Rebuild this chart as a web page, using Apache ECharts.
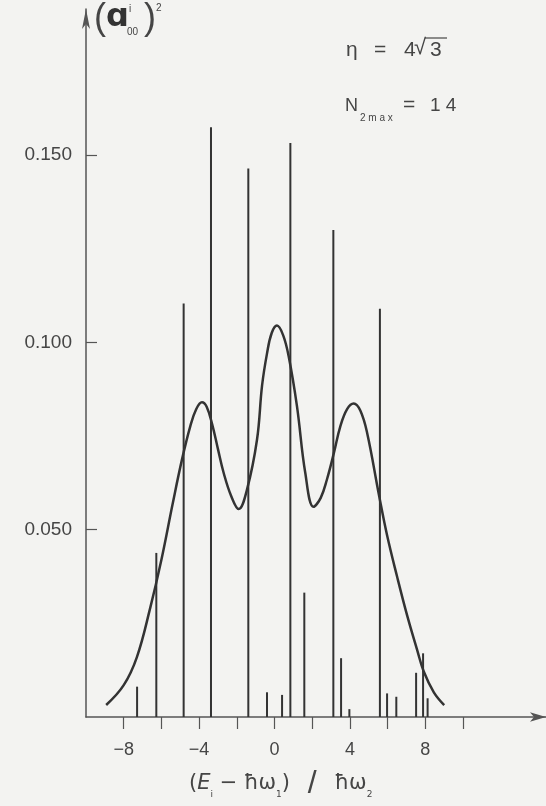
<!DOCTYPE html>
<html>
<head>
<meta charset="utf-8">
<script src="https://cdn.jsdelivr.net/npm/echarts@6/dist/echarts.min.js"></script>
<style>
html,body{margin:0;padding:0;background:#f3f3f1;}
#c{width:546px;height:806px;}
</style>
</head>
<body>
<div id="c"></div>
<script>
// Stick spectrum: positions (E_i - ħω1)/ħω2 and weights (a_00^i)^2
const barPositions = [-7.29, -6.27, -4.82, -3.37, -1.39, -0.40, 0.40, 0.84, 1.58, 3.12, 3.53, 3.97, 5.59, 5.97, 6.46, 7.51, 7.88, 8.12];
const barHeights   = [0.0081, 0.0438, 0.1104, 0.1574, 0.1464, 0.0066, 0.0059, 0.1532, 0.0332, 0.1300, 0.0157, 0.0021, 0.1090, 0.0063, 0.0054, 0.0118, 0.0170, 0.0050];

// Envelope curve
const curveX = [-8.93, -8.0, -7.3, -6.6, -6.0, -5.4, -4.91, -4.47, -4.15, -3.85, -3.60, -3.30, -3.00, -2.70, -2.30, -1.90, -1.46, -0.93, -0.66, -0.40, -0.15, 0.13, 0.45, 0.75, 1.19, 1.63, 2.07, 2.45, 2.78, 3.15, 3.49, 3.85, 4.20, 4.55, 4.91, 5.55, 5.97, 6.50, 7.03, 7.56, 7.91, 8.45, 9.0];
const curveY = [0.0032, 0.0085, 0.0160, 0.0290, 0.0420, 0.0570, 0.0687, 0.0776, 0.0822, 0.0840, 0.0828, 0.0780, 0.0715, 0.0652, 0.0590, 0.0555, 0.0607, 0.0740, 0.0885, 0.0970, 0.1025, 0.1045, 0.1020, 0.0963, 0.0830, 0.0652, 0.0561, 0.0585, 0.0634, 0.0705, 0.0776, 0.0822, 0.0837, 0.0818, 0.0759, 0.0590, 0.0485, 0.0375, 0.0272, 0.0180, 0.0122, 0.0066, 0.0032];

// Axis ticks and labels
const xTicks = [-8, -6, -4, -2, 0, 2, 4, 6, 8, 10];
const xLabels = [-8, -4, 0, 4, 8];
const yTicks = [0.05, 0.10, 0.15];

const ink = '#333';
const txt = '#454545';
const font = 'Liberation Sans';

const chart = echarts.init(document.getElementById('c'), null, {renderer: 'canvas'});
chart.setOption({
  backgroundColor: '#f3f3f1',
  animation: false,
  grid: {left: 86, right: 0, top: 9, bottom: 89, containLabel: false},
  xAxis: {
    type: 'value', min: -10, max: 14.4,
    axisLine: {show: true, onZero: false, symbol: ['none', 'arrow'], symbolSize: [7, 16], lineStyle: {color: '#555', width: 1.5}},
    axisTick: {show: true, inside: false, length: 12, customValues: xTicks, lineStyle: {color: '#555', width: 1.2}},
    axisLabel: {show: true, margin: 24, customValues: xLabels, color: txt, fontSize: 18, fontFamily: font,
      formatter: v => (v < 0 ? '\u2212' + Math.abs(v) : String(v))},
    splitLine: {show: false}
  },
  yAxis: {
    type: 'value', min: 0, max: 0.189,
    axisLine: {show: true, onZero: false, symbol: ['none', 'arrow'], symbolSize: [6, 20], lineStyle: {color: '#555', width: 1.5}},
    axisTick: {show: true, inside: true, length: 11, customValues: yTicks, lineStyle: {color: '#555', width: 1.2}},
    axisLabel: {show: true, margin: 14, customValues: yTicks, color: txt, fontSize: 19, fontFamily: font,
      formatter: v => v.toFixed(3)},
    splitLine: {show: false}
  },
  series: [
    {
      type: 'bar', barWidth: 2, z: 2,
      itemStyle: {color: ink},
      data: barPositions.map((x, i) => [x, barHeights[i]])
    },
    {
      type: 'line', smooth: 0.4, showSymbol: false, symbol: 'none', z: 3,
      lineStyle: {color: ink, width: 2.5},
      data: curveX.map((x, i) => [x, curveY[i]])
    }
  ],
  graphic: [
    // y-axis name (a_00^i)^2
    {type: 'text', left: 94, top: 1, style: {text: '(', font: '36px "Liberation Sans"', fill: txt}},
    {type: 'text', left: 106, top: 2, style: {text: '\u0251', font: 'bold 32px "DejaVu Sans"', fill: '#333'}},
    {type: 'text', left: 129, top: 4, style: {text: 'i', font: '10px "Liberation Sans"', fill: txt}},
    {type: 'text', left: 127, top: 27, style: {text: '00', font: '10px "Liberation Sans"', fill: txt}},
    {type: 'text', left: 144, top: 1, style: {text: ')', font: '36px "Liberation Sans"', fill: txt}},
    {type: 'text', left: 156, top: 3, style: {text: '2', font: '10px "Liberation Sans"', fill: txt}},
    // eta annotation
    {type: 'text', left: 346, top: 40, style: {text: '\u03b7', font: '21px "Liberation Sans"', fill: txt}},
    {type: 'text', left: 374, top: 40, style: {text: '=', font: '21px "Liberation Sans"', fill: txt}},
    {type: 'text', left: 404, top: 40, style: {text: '4', font: '21px "Liberation Sans"', fill: txt}},
    {type: 'text', left: 414, top: 37, style: {text: '\u221a', font: '22px "Liberation Sans"', fill: txt}},
    {type: 'text', left: 430, top: 40, style: {text: '3', font: '21px "Liberation Sans"', fill: txt}},
    {type: 'line', shape: {x1: 425, y1: 38, x2: 447, y2: 38}, style: {stroke: txt, lineWidth: 1.2}},
    // N_2max annotation
    {type: 'text', left: 345, top: 97, style: {text: 'N', font: '18px "Liberation Sans"', fill: txt}},
    {type: 'text', left: 360, top: 113, style: {text: '2 m a x', font: '10px "Liberation Sans"', fill: txt}},
    {type: 'text', left: 403, top: 95, style: {text: '=', font: '21px "Liberation Sans"', fill: txt}},
    {type: 'text', left: 430, top: 96, style: {text: '1 4', font: '19px "Liberation Sans"', fill: txt}},
    // x-axis name
    {type: 'text', left: 189, top: 768, style: {
      text: '{m|(}{e|E}{s|i}{m| \u2212 \u0127\u03c9}{s|1}{m|)}{sl|  /  }{m|\u0127\u03c9}{s|2}',
      fill: txt,
      rich: {
        m: {fontSize: 21, fontFamily: 'DejaVu Sans', lineHeight: 30, fill: txt},
        e: {fontSize: 21, fontFamily: 'DejaVu Sans', fontStyle: 'italic', lineHeight: 30, fill: txt},
        s: {fontSize: 9, fontFamily: 'DejaVu Sans', lineHeight: 13, verticalAlign: 'bottom', fill: txt},
        sl: {fontSize: 32, fontFamily: 'Liberation Sans', lineHeight: 30, fill: txt}
      }
    }}
  ]
});
</script>
</body>
</html>
